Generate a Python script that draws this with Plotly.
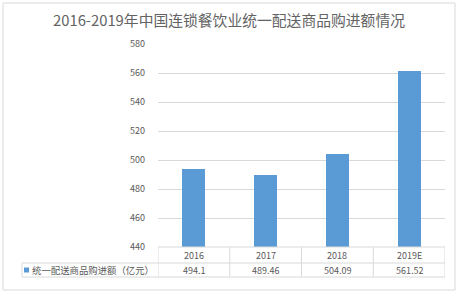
import plotly.graph_objects as go

# Data
years = ["2016", "2017", "2018", "2019E"]
values = [494.1, 489.46, 504.09, 561.52]
value_labels = ["494.1", "489.46", "504.09", "561.52"]
series_name = "统一配送商品购进额（亿元）"
title_text = "2016-2019年中国连锁餐饮业统一配送商品购进额情况"
y_ticks = [440, 460, 480, 500, 520, 540, 560, 580]

W, H = 462, 297
L, R, T, B = 158, 17, 44, 50
plot_w = W - L - R
plot_h = H - T - B

def px_x(px):
    return (px - L) / plot_w

def px_y(py):
    return (H - B - py) / plot_h

FONT = "Noto Sans CJK SC"
TXT = "#595959"
GRID = "#d9d9d9"
BAR = "#5b9bd5"

fig = go.Figure()
fig.add_trace(go.Bar(
    x=list(range(len(years))), y=values, width=0.32,
    marker=dict(color=BAR, line=dict(width=0)), name=series_name,
))

shapes = []
# outer frame
shapes.append(dict(type="rect", xref="paper", yref="paper",
                   x0=px_x(3), x1=px_x(455), y0=px_y(290), y1=px_y(3),
                   line=dict(color=GRID, width=1), layer="below"))
# data table lines
row1, row2 = px_y(263), px_y(277)
for yy in (0, row1, row2):
    x0 = px_x(22) if yy != 0 else 0
    shapes.append(dict(type="line", xref="paper", yref="paper",
                       x0=x0, x1=1, y0=yy, y1=yy, line=dict(color=GRID, width=1)))
for i in range(len(years) + 1):
    shapes.append(dict(type="line", xref="x", yref="paper",
                       x0=i - 0.5, x1=i - 0.5, y0=0, y1=row2, line=dict(color=GRID, width=1)))
shapes.append(dict(type="line", xref="paper", yref="paper",
                   x0=px_x(22), x1=px_x(22), y0=row1, y1=row2, line=dict(color=GRID, width=1)))
# legend key
shapes.append(dict(type="rect", xref="paper", yref="paper",
                   x0=px_x(24), x1=px_x(29), y0=px_y(272.5), y1=px_y(267.5),
                   fillcolor=BAR, line=dict(width=0)))

cell_font = dict(family=FONT, size=9, color=TXT)
annotations = []
for i, (yr, lab) in enumerate(zip(years, value_labels)):
    annotations.append(dict(x=i, y=(0 + row1) / 2, xref="x", yref="paper", text=yr,
                            xanchor="center", yanchor="middle",
                            showarrow=False, font=cell_font))
    annotations.append(dict(x=i, y=(row1 + row2) / 2, xref="x", yref="paper", text=lab,
                            xanchor="center", yanchor="middle",
                            showarrow=False, font=cell_font))
annotations.append(dict(x=px_x(30), y=(row1 + row2) / 2, xref="paper", yref="paper",
                        text=series_name, xanchor="left", yanchor="middle", showarrow=False,
                        font=dict(family=FONT, size=9.4, color=TXT)))
annotations.append(dict(x=px_x(229), y=px_y(20), xref="paper", yref="paper",
                        text=title_text, xanchor="center", yanchor="middle", showarrow=False,
                        font=dict(family=FONT, size=14.8, color="#636363")))

fig.update_layout(
    width=W, height=H,
    margin=dict(l=L, r=R, t=T, b=B),
    paper_bgcolor="white", plot_bgcolor="white",
    showlegend=False,
    shapes=shapes, annotations=annotations,
    xaxis=dict(range=[-0.5, len(years) - 0.5], showticklabels=False, showgrid=False,
               zeroline=False, showline=False, fixedrange=True),
    yaxis=dict(range=[440, 580], tickvals=y_ticks, showgrid=True, gridcolor=GRID,
               gridwidth=1, zeroline=False, showline=False, ticks="",
               ticklabelstandoff=12,
               tickfont=dict(family=FONT, size=9, color=TXT)),
    bargap=0,
)

fig.write_html("out.html")
